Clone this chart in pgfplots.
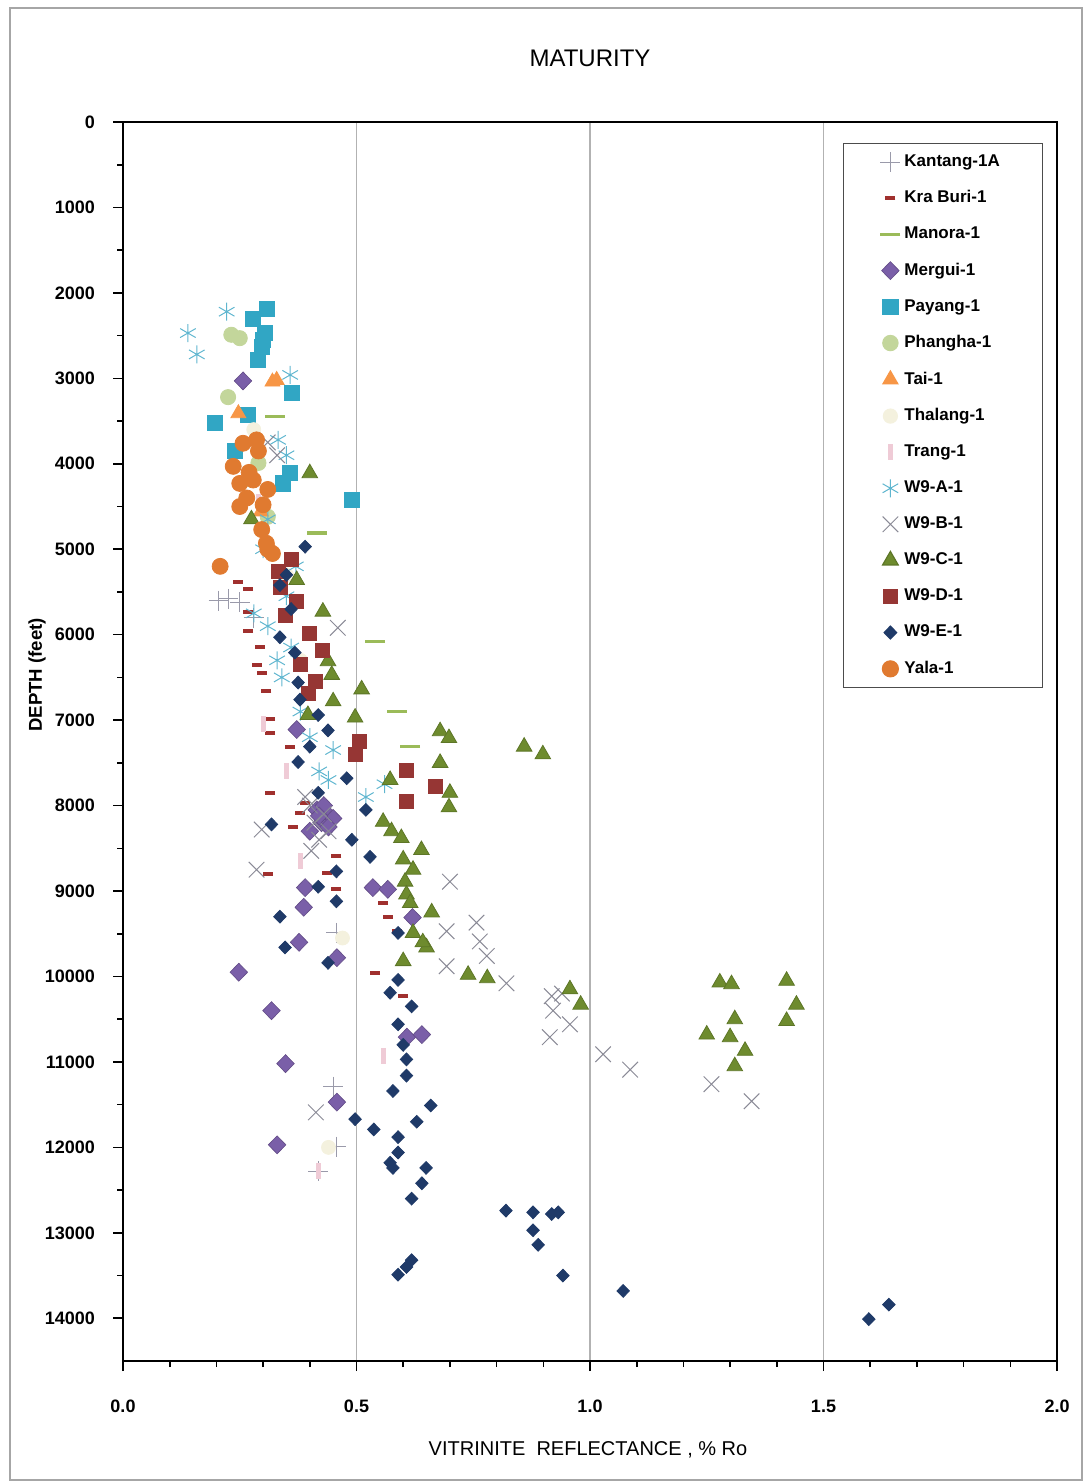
\documentclass[border=0pt]{standalone}
\usepackage{fontspec}
\setmainfont{Liberation Sans}
\usepackage{pgfplots}
\pgfplotsset{compat=1.18}
\definecolor{kantang}{HTML}{9A9AAA}
\definecolor{kraburi}{HTML}{A0302E}
\definecolor{manora}{HTML}{9BBB59}
\definecolor{mergui}{HTML}{7A5FA8}
\definecolor{payang}{HTML}{31A6C4}
\definecolor{phangha}{HTML}{C3D69B}
\definecolor{tai}{HTML}{F79646}
\definecolor{thalang}{HTML}{F4F1DE}
\definecolor{trang}{HTML}{EFCBD6}
\definecolor{wa}{HTML}{5FB6CF}
\definecolor{wb}{HTML}{8A8A96}
\definecolor{wc}{HTML}{6E8B2E}
\definecolor{wd}{HTML}{963634}
\definecolor{we}{HTML}{1F3A68}
\definecolor{yala}{HTML}{E07A30}
\newcommand{\legtxt}[1]{\makebox[48.5pt][l]{#1}}
\begin{document}
\begin{tikzpicture}
\useasboundingbox (0,0) rectangle (541.5pt,740.5pt);
\draw[gray!70, line width=0.8pt] (5pt,0.5pt) rectangle (541pt,736.5pt);
\node at (295pt,711.5pt) {\fontsize{12}{14}\selectfont MATURITY};
\node at (294pt,15.5pt) {\fontsize{10}{12}\selectfont VITRINITE\ \ REFLECTANCE , \% Ro};
\node[rotate=90] at (18.5pt,403pt) {\fontsize{9.3}{11}\selectfont\bfseries DEPTH (feet)};
\begin{axis}[
  at={(61.5pt,60pt)}, anchor=south west,
  width=467pt, height=619.5pt, scale only axis,
  xmin=0, xmax=2, ymin=0, ymax=14500, y dir=reverse,
  xtick={0,0.5,1,1.5,2}, minor x tick num=4,
  ytick={0,1000,2000,3000,4000,5000,6000,7000,8000,9000,10000,11000,12000,13000,14000},
  minor y tick num=1,
  scaled y ticks=false, scaled x ticks=false,
  tick pos=left,
  /pgf/number format/assume math mode=true,
  xticklabel style={/pgf/number format/fixed, /pgf/number format/fixed zerofill, /pgf/number format/precision=1, yshift=-11pt},
  yticklabel style={/pgf/number format/fixed, /pgf/number format/set thousands separator={}, xshift=-5.5pt},
  ticklabel style={font=\fontsize{9}{10}\selectfont\bfseries},
  tick align=outside,
  major tick length=5pt, minor tick length=3pt,
  every tick/.style={black, line width=0.8pt},
  axis line style={line width=1pt},
  xmajorgrids, grid style={gray!60, line width=0.8pt},
  only marks,
  legend cell align=left,
  legend style={at={(0.985,0.983)}, anchor=north east, draw=black!70, line width=0.6pt,
    font=\fontsize{8.5}{10}\selectfont\bfseries, row sep=6.6pt, inner xsep=18.5pt, inner ysep=3.5pt},
]
\addplot[mark=+, mark size=5pt, draw=kantang, line width=0.5pt] coordinates {
(0.205,5600)(0.225,5580)(0.25,5620)(0.28,5800)(0.457,9490)(0.45,11290)(0.457,11990)(0.418,12280)};
\addlegendentry{\legtxt{Kantang-1A}}
\addplot[mark=-, mark size=2.5pt, draw=kraburi, line width=2pt] coordinates {
(0.246,5380)(0.268,5470)(0.268,5730)(0.268,5960)(0.293,6140)(0.286,6350)(0.297,6450)(0.307,6660)
(0.315,6990)(0.315,7150)(0.358,7310)(0.315,7850)(0.39,7970)(0.379,8090)(0.364,8250)(0.457,8590)
(0.436,8790)(0.457,8980)(0.557,9140)(0.567,9300)(0.586,9470)(0.54,9960)(0.60,10230)(0.31,8800)};
\addlegendentry{\legtxt{Kra Buri-1}}
\addplot[mark=-, mark size=5pt, draw=manora, line width=1.6pt] coordinates {
(0.325,3450)(0.415,4810)(0.54,6080)(0.586,6900)(0.615,7310)};
\addlegendentry{\legtxt{Manora-1}}
\addplot[mark=diamond*, mark size=4.5pt, mark options={xscale=1.3}, draw=mergui!80!black, fill=mergui, line width=0.3pt] coordinates {
(0.257,3030)(0.372,7110)(0.415,8050)(0.436,8090)(0.425,8200)(0.43,8000)(0.40,8300)(0.45,8150)
(0.42,8120)(0.44,8250)(0.39,8960)(0.387,9190)(0.377,9600)(0.458,9780)(0.248,9950)(0.318,10400)
(0.348,11020)(0.458,11470)(0.33,11970)(0.535,8960)(0.567,8980)(0.62,9310)(0.608,10710)(0.64,10680)};
\addlegendentry{\legtxt{Mergui-1}}
\addplot[mark=square*, mark size=3.8pt, draw=payang, fill=payang] coordinates {
(0.308,2190)(0.278,2300)(0.304,2470)(0.30,2550)(0.297,2630)(0.289,2780)(0.361,3170)(0.197,3520)
(0.268,3430)(0.358,4110)(0.343,4230)(0.49,4420)(0.24,3850)};
\addlegendentry{\legtxt{Payang-1}}
\addplot[mark=*, mark size=3.8pt, draw=phangha, fill=phangha] coordinates {
(0.232,2490)(0.25,2530)(0.225,3220)(0.29,3990)(0.27,4180)(0.31,4620)};
\addlegendentry{\legtxt{Phangha-1}}
\addplot[mark=triangle*, mark size=4.3pt, draw=tai, fill=tai] coordinates {
(0.329,3020)(0.247,3410)(0.295,4560)(0.32,3040)};
\addlegendentry{\legtxt{Tai-1}}
\addplot[mark=*, mark size=3.5pt, draw=thalang, fill=thalang] coordinates {
(0.28,3600)(0.35,5300)(0.38,6300)(0.47,9550)(0.44,12000)};
\addlegendentry{\legtxt{Thalang-1}}
\addplot[mark=|, mark size=4pt, draw=trang, line width=2.5pt] coordinates {
(0.29,4450)(0.30,7050)(0.35,7600)(0.38,8650)(0.557,10930)(0.418,12280)};
\addlegendentry{\legtxt{Trang-1}}
\addplot[mark=asterisk, mark size=4.5pt, draw=wa, line width=0.5pt] coordinates {
(0.222,2220)(0.139,2470)(0.158,2720)(0.358,2960)(0.332,3720)(0.35,3900)(0.31,4650)(0.30,5000)
(0.37,5200)(0.35,5550)(0.28,5750)(0.31,5900)(0.36,6150)(0.33,6300)(0.34,6500)(0.38,6900)
(0.40,7200)(0.45,7350)(0.42,7600)(0.44,7700)(0.56,7750)(0.52,7900)};
\addlegendentry{\legtxt{W9-A-1}}
\addplot[mark=x, mark size=5.5pt, draw=wb, line width=0.5pt] coordinates {
(0.31,3750)(0.33,3900)(0.46,5920)(0.39,7900)(0.40,8000)(0.43,8100)(0.41,8200)(0.44,8300)(0.42,8400)
(0.297,8280)(0.403,8530)(0.286,8750)(0.70,8890)(0.757,9370)(0.693,9470)(0.764,9590)(0.779,9760)
(0.693,9880)(0.413,11590)(0.821,10080)(0.918,10230)(0.94,10200)(0.921,10400)(0.957,10560)(0.914,10710)
(1.028,10910)(1.086,11090)(1.26,11260)(1.346,11460)};
\addlegendentry{\legtxt{W9-B-1}}
\addplot[mark=triangle*, mark size=4.5pt, draw=wc!85!black, fill=wc] coordinates {
(0.40,4110)(0.275,4650)(0.372,5360)(0.428,5730)(0.439,6310)(0.447,6470)(0.511,6640)(0.45,6780)
(0.497,6970)(0.396,6940)(0.572,7700)(0.679,7130)(0.698,7210)(0.859,7310)(0.899,7400)(0.679,7500)
(0.70,7850)(0.698,8020)(0.557,8190)(0.575,8300)(0.596,8380)(0.639,8520)(0.60,8630)(0.621,8750)
(0.604,8890)(0.607,9040)(0.615,9140)(0.661,9250)(0.621,9490)(0.65,9660)(0.642,9600)(0.60,9820)
(0.739,9980)(0.78,10020)(0.957,10150)(0.98,10330)(1.278,10070)(1.303,10090)(1.421,10050)
(1.442,10330)(1.421,10520)(1.31,10500)(1.25,10680)(1.30,10710)(1.332,10870)(1.31,11050)};
\addlegendentry{\legtxt{W9-C-1}}
\addplot[mark=square*, mark size=3.5pt, draw=wd, fill=wd] coordinates {
(0.361,5120)(0.332,5260)(0.336,5450)(0.372,5610)(0.347,5770)(0.40,5980)(0.428,6180)(0.379,6350)
(0.411,6550)(0.396,6690)(0.507,7250)(0.497,7400)(0.607,7590)(0.67,7770)(0.607,7950)};
\addlegendentry{\legtxt{W9-D-1}}
\addplot[mark=diamond*, mark size=3.2pt, mark options={xscale=1.3}, draw=we, fill=we] coordinates {
(0.39,4970)(0.35,5300)(0.336,5420)(0.36,5700)(0.336,6030)(0.368,6210)(0.375,6560)(0.379,6760)
(0.418,6940)(0.439,7120)(0.40,7310)(0.375,7490)(0.479,7680)(0.418,7850)(0.52,8050)(0.318,8220)
(0.49,8400)(0.529,8600)(0.457,8770)(0.418,8950)(0.457,9120)(0.336,9300)(0.347,9660)(0.439,9840)
(0.589,9490)(0.589,10040)(0.572,10190)(0.618,10350)(0.589,10560)(0.60,10800)(0.607,10970)
(0.607,11160)(0.578,11340)(0.659,11510)(0.497,11670)(0.629,11700)(0.537,11790)(0.589,11880)
(0.589,12060)(0.572,12180)(0.578,12240)(0.649,12240)(0.64,12420)(0.618,12600)(0.82,12740)
(0.878,12760)(0.918,12780)(0.932,12760)(0.878,12970)(0.889,13140)(0.618,13320)(0.607,13400)
(0.589,13490)(0.942,13500)(1.071,13680)(1.597,14010)(1.64,13840)};
\addlegendentry{\legtxt{W9-E-1}}
\addplot[mark=*, mark size=4pt, draw=yala, fill=yala] coordinates {
(0.257,3760)(0.286,3720)(0.29,3850)(0.236,4030)(0.27,4100)(0.279,4190)(0.25,4230)(0.31,4300)
(0.265,4400)(0.25,4500)(0.30,4480)(0.297,4770)(0.307,4930)(0.31,5000)(0.32,5050)(0.208,5200)};
\addlegendentry{\legtxt{Yala-1}}
\end{axis}
\end{tikzpicture}
\end{document}
